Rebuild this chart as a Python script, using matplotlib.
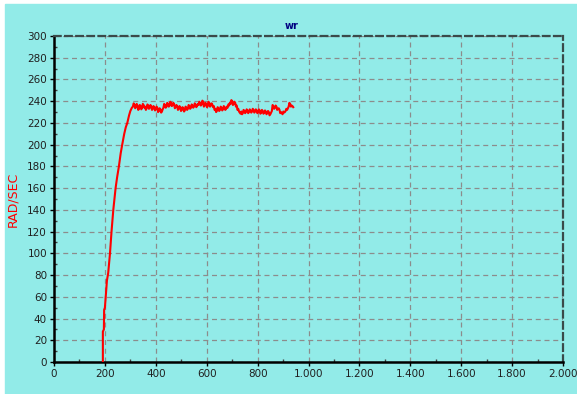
import matplotlib
matplotlib.use("Agg")
import matplotlib.pyplot as plt
import matplotlib.patches as mpatches
import numpy as np
from matplotlib.ticker import FuncFormatter, MultipleLocator

# rise from standstill (time, rad/s)
rise_t = [192, 192, 196, 197, 200, 204, 208, 213, 220, 226, 233, 242, 248, 255,
          262, 268, 276, 282, 288, 295, 300, 306]
rise_w = [0, 28, 30, 48, 50, 62, 75, 82, 100, 120, 140, 160, 170, 180,
          192, 200, 210, 216, 220, 227, 231, 234]

# steady-state plateau, sampled every 3 time units from 310
plateau_start = 310
plateau_step = 3
plateau_w = [
    235, 238, 237, 233.5, 234.5, 237.5, 236, 232, 233, 236.5,
    235.5, 232.5, 234, 237.5, 236.5, 234, 235, 232, 233.5, 237,
    236, 233, 234, 236.5, 235.5, 232, 233, 235.5, 234.5, 231.5,
    232.5, 235, 234, 230, 231, 233.5, 232.5, 229.5, 230.5, 232.5,
    234, 237.5, 236.5, 234, 235, 238.5, 237.5, 235, 236, 239.5,
    238.5, 235.5, 236.5, 238.5, 237, 233.5, 234.5, 236.5, 235.5, 232,
    233, 235.5, 234.5, 231, 232, 234.5, 233.5, 230.5, 231.5, 235,
    234, 232, 233, 236.5, 235.5, 233, 234, 237, 236, 234,
    235, 238, 237, 234.5, 235.5, 237.5, 236.5, 239.5, 238, 236,
    237, 240.5, 239.5, 235, 236, 238.5, 237.5, 234.5, 235.5, 239.5,
    238.5, 235, 236, 238, 237, 234.5, 235.5, 232, 233, 230,
    231, 234.5, 233.5, 231, 232, 235, 234, 231.5, 232.5, 235.5,
    234.5, 232, 233, 235, 234, 237, 236, 238.5, 237.5, 241,
    240, 236.5, 237.5, 239.5, 238.5, 235, 236, 232, 233, 230.5,
    229.5, 228.5, 230.5, 228, 229, 232, 231, 229, 230, 232.5,
    231.5, 229, 230, 232.5, 231.5, 229.5, 230.5, 233, 232, 229.5,
    230.5, 232.5, 231.5, 229, 230, 232.5, 231.5, 228.5, 229.5, 232,
    231, 228.5, 229.5, 231.5, 230.5, 228, 229, 231, 230, 227,
    228, 229.5, 231, 236.5, 235.5, 233, 234, 236, 235, 232,
    233, 233.5, 232, 229, 230, 229, 228, 230.5, 229.5, 230,
    231, 233, 232, 233.5, 235, 238.5, 237.5, 235, 236, 235.5,
    234.5,
]

x_ticks = [0, 200, 400, 600, 800, 1000, 1200, 1400, 1600, 1800, 2000]
y_ticks = list(range(0, 301, 20))

BG = "#92ebe8"
GRID = "#8c8c8c"

fig = plt.figure(figsize=(5.77, 3.94), dpi=100, facecolor="white")
fig.patches.append(mpatches.Rectangle((5 / 577, 0), 572 / 577, 390 / 394,
                                      transform=fig.transFigure, color=BG, zorder=-10))

ax = fig.add_axes([54 / 577, 32 / 394, 509 / 577, 326 / 394])
ax.set_facecolor(BG)

plateau_t = plateau_start + plateau_step * np.arange(len(plateau_w))
t = np.concatenate([rise_t, plateau_t])
w = np.concatenate([rise_w, plateau_w])
ax.plot(t, w, color="#ff0000", lw=1.5, zorder=3)

ax.set_xlim(0, 2000)
ax.set_ylim(0, 300)
ax.set_xticks(x_ticks)
ax.set_yticks(y_ticks)
ax.xaxis.set_minor_locator(MultipleLocator(100))
ax.yaxis.set_minor_locator(MultipleLocator(10))
ax.xaxis.set_major_formatter(FuncFormatter(lambda v, _: f"{int(v):,}".replace(",", ".")))

ax.grid(True, which="major", color=GRID, linestyle=(0, (4, 3)), linewidth=0.9)
ax.tick_params(which="major", direction="out", length=3, width=1, color="black",
               labelsize=7.5, labelcolor="#202020", pad=2)
ax.tick_params(which="minor", direction="in", length=2, width=1, color="#404040")

for side in ("left", "bottom"):
    ax.spines[side].set_linewidth(1.8)
    ax.spines[side].set_color("black")
for side in ("top", "right"):
    ax.spines[side].set_linestyle((0, (3, 2)))
    ax.spines[side].set_linewidth(1.6)
    ax.spines[side].set_color("#3a4a4a")

ax.set_ylabel("RAD/SEC", color="#ff0000", fontsize=9, labelpad=6)
fig.text(292 / 577, 1 - 26 / 394, "wr", color="#000080", fontsize=7,
         fontweight="bold", ha="center", va="center")

fig.savefig("out.png", dpi=100, facecolor=fig.get_facecolor())
